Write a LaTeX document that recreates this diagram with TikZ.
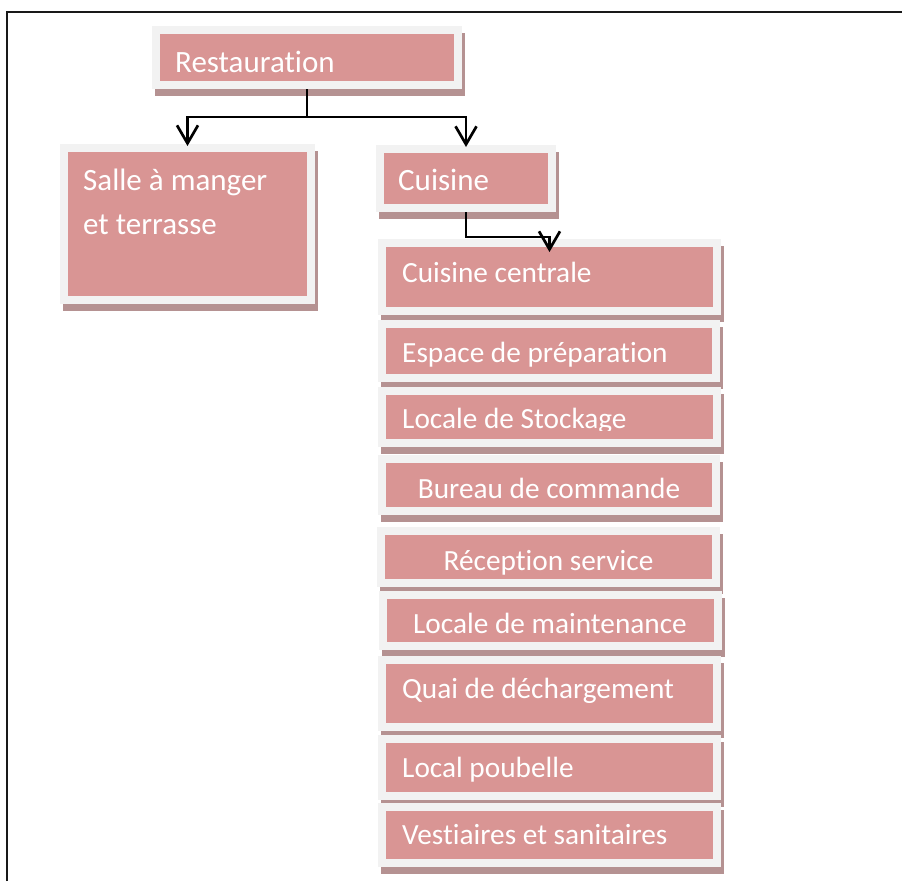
\documentclass[tikz,border=0pt]{standalone}
\usepackage{fontspec}
\setmainfont{Carlito}[Ligatures={NoCommon}]
\usetikzlibrary{arrows.meta}

\definecolor{boxpink}{HTML}{D99594}
\definecolor{boxrim}{HTML}{F2F2F2}
\definecolor{boxshade}{HTML}{B59292}

\tikzset{
  box/.style={rectangle, draw=boxrim, fill=boxpink, line width=8pt, inner sep=0pt,
    preaction={draw=boxshade, fill=boxshade, transform canvas={xshift=3pt, yshift=-7pt}}},
  lbl/.style={text=white, inner sep=0pt, anchor=base west, font=\fontsize{31}{37}\selectfont},
  item/.style={lbl, font=\fontsize{29.3}{35}\selectfont},
  citem/.style={item, anchor=base},
  conn/.style={draw=black, line width=2.7pt},
  tip/.style={-{Straight Barb[length=18pt, width=21pt]}},
}

\begin{document}
\begin{tikzpicture}[x=1pt, y=-1pt]
  \useasboundingbox (0,0) rectangle (902,881);

  % page frame
  \draw[line width=2pt, black!90] (7,881) -- (7,12) -- (902,12);

  % top level
  \node[box, minimum width=302pt, minimum height=55pt] (rest) at (307,57.5) {};
  \node[lbl] (trest) at (175,72) {Restauration};

  % second level
  \node[box, minimum width=247pt, minimum height=152pt] (salle) at (187.5,224) {};
  \node[lbl, align=left, font=\fontsize{31}{44}\selectfont] (tsalle) at (83,234) {Salle à manger\\et terrasse};

  \node[box, minimum width=172pt, minimum height=59pt] (cuis) at (466,178.5) {};
  \node[lbl] (tcuis) at (398,190) {Cuisine};

  % kitchen areas
  \node[box, minimum width=335pt, minimum height=68pt] (cc) at (549.5,277) {};
  \node[item] (tcc) at (402,282) {Cuisine centrale};

  \node[box, minimum width=334pt, minimum height=54pt] (esp) at (549,351) {};
  \node[item] (tesp) at (402,362) {Espace de préparation};

  \node[box, minimum width=335pt, minimum height=52pt] (stock) at (549.5,417) {};
  \begin{scope}
    \clip (378,387) rectangle (721,430);
    \node[item] (tstock) at (402,428) {Locale de Stockage};
  \end{scope}

  \node[box, minimum width=334pt, minimum height=52pt] (bureau) at (549,485) {};
  \node[citem] (tbureau) at (549,498) {Bureau de commande};

  \node[box, minimum width=335pt, minimum height=52pt] (recep) at (548.5,557) {};
  \node[citem] (trecep) at (548.5,570) {Réception service};

  \node[box, minimum width=335pt, minimum height=51pt] (maint) at (550.5,620.5) {};
  \node[citem] (tmaint) at (550,633) {Locale de maintenance};

  \node[box, minimum width=335pt, minimum height=67pt] (quai) at (549.5,693.5) {};
  \node[item] (tquai) at (402,698) {Quai de déchargement};

  \node[box, minimum width=335pt, minimum height=57pt] (poub) at (549.5,767.5) {};
  \node[item] (tpoub) at (402,777) {Local poubelle};

  \node[box, minimum width=335pt, minimum height=56pt] (vest) at (549.5,835) {};
  \node[item] (tvest) at (402,844) {Vestiaires et sanitaires};

  % connectors
  \draw[conn] (rest.south) -- ++(0,28) coordinate (fork);
  \draw[conn, tip, shorten >=-2pt] (fork) -| (salle.north);
  \draw[conn, tip, shorten >=-2pt] (fork) -| (cuis.north);
  \draw[conn, tip, shorten >=-13pt] (cuis.south) -- ++(0,25) -| (cc.north);
\end{tikzpicture}
\end{document}
